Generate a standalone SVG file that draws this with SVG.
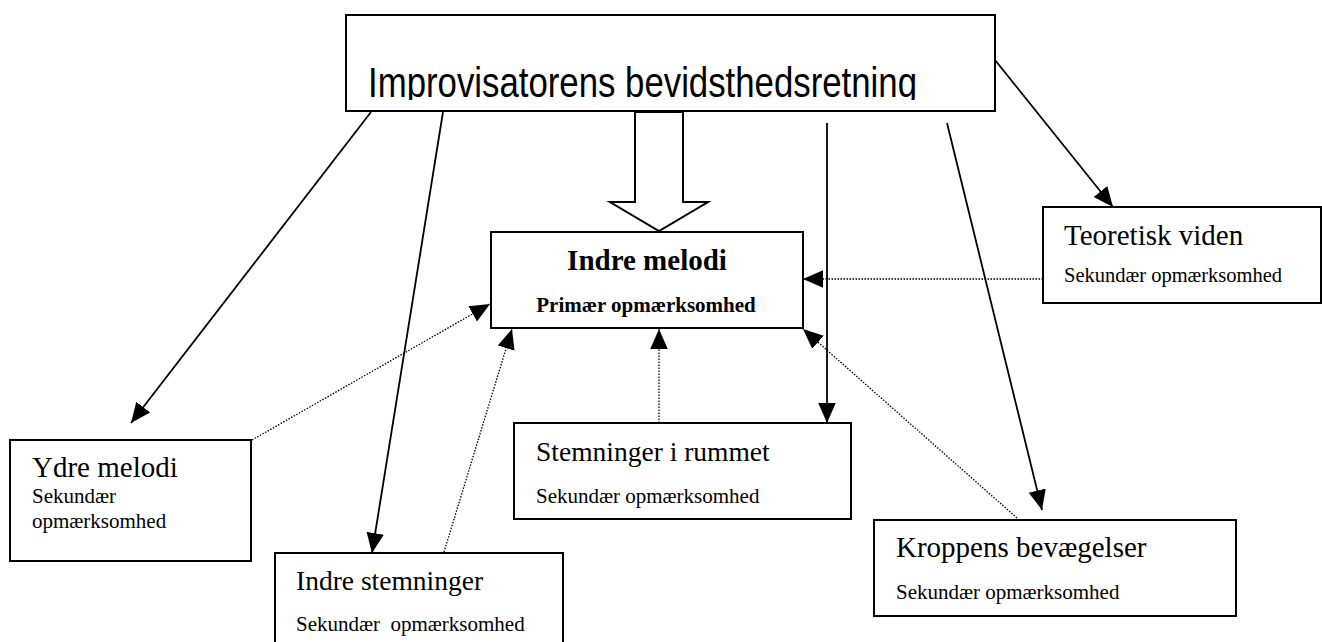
<svg xmlns="http://www.w3.org/2000/svg" width="1322" height="642" viewBox="0 0 1322 642">
<style>
.box{fill:#fff;stroke:#000;stroke-width:2}
.t{font-family:"Liberation Serif","Times New Roman",serif;fill:#000}
.b{font-weight:bold}
.solid{stroke:#000;stroke-width:1.8;fill:none}
.dot{stroke:#000;stroke-width:1.3;fill:none;stroke-dasharray:1.5 1.5}
</style>
<defs>
<marker id="ah" markerUnits="userSpaceOnUse" markerWidth="20" markerHeight="20" viewBox="0 0 16 14" refX="16" refY="7" orient="auto">
<path d="M0,0 L16,7 L0,14 Z" fill="#000"/>
</marker>
<clipPath id="topclip"><rect x="346" y="15" width="649" height="85"/></clipPath>
</defs>
<rect width="1322" height="642" fill="#fff"/>
<g id="connectors">
<line class="solid" x1="371" y1="112" x2="131" y2="423" marker-end="url(#ah)"/>
<line class="solid" x1="443" y1="112" x2="372" y2="553" marker-end="url(#ah)"/>
<line class="solid" x1="827" y1="123" x2="827" y2="423" marker-end="url(#ah)"/>
<line class="solid" x1="947" y1="123" x2="1042" y2="510" marker-end="url(#ah)"/>
<line class="solid" x1="995" y1="60" x2="1113" y2="207" marker-end="url(#ah)"/>
<line class="dot" x1="252" y1="440" x2="490" y2="304" marker-end="url(#ah)"/>
<line class="dot" x1="444" y1="552" x2="512" y2="329" marker-end="url(#ah)"/>
<line class="dot" x1="659" y1="423" x2="659" y2="329" marker-end="url(#ah)"/>
<line class="dot" x1="1017" y1="518" x2="803" y2="329" marker-end="url(#ah)"/>
<line class="dot" x1="1043" y1="279" x2="803" y2="279" marker-end="url(#ah)"/>
<polygon class="box" points="635,112 683,112 683,202 708,202 659,231 610,202 635,202"/>
</g>
<g id="top">
<rect class="box" x="346" y="15" width="649" height="96"/>
<text x="368" y="97" clip-path="url(#topclip)" font-family="'Liberation Sans Narrow','Liberation Sans',Arial,sans-serif" font-size="42" textLength="549" lengthAdjust="spacingAndGlyphs">Improvisatorens bevidsthedsretning</text>
</g>
<g id="indre-melodi">
<rect class="box" x="491" y="232" width="312" height="96"/>
<text class="t b" x="647" y="270" font-size="29" text-anchor="middle">Indre melodi</text>
<text class="t b" x="646" y="312" font-size="21" text-anchor="middle">Primær opmærksomhed</text>
</g>
<g id="teoretisk">
<rect class="box" x="1043" y="207" width="278" height="96"/>
<text class="t" x="1064" y="245" font-size="29">Teoretisk viden</text>
<text class="t" x="1064" y="282" font-size="20.5">Sekundær opmærksomhed</text>
</g>
<g id="ydre-melodi">
<rect class="box" x="10" y="440" width="241" height="121"/>
<text class="t" x="32" y="477" font-size="29">Ydre melodi</text>
<text class="t" x="32" y="503" font-size="21">Sekundær</text>
<text class="t" x="32" y="528" font-size="21">opmærksomhed</text>
</g>
<g id="stemninger-i-rummet">
<rect class="box" x="514" y="423" width="337" height="96"/>
<text class="t" x="536" y="461" font-size="27.5">Stemninger i rummet</text>
<text class="t" x="536" y="503" font-size="21">Sekundær opmærksomhed</text>
</g>
<g id="kroppens">
<rect class="box" x="874" y="520" width="362" height="96"/>
<text class="t" x="896" y="557" font-size="29">Kroppens bevægelser</text>
<text class="t" x="896" y="599" font-size="21">Sekundær opmærksomhed</text>
</g>
<g id="indre-stemninger">
<rect class="box" x="275" y="553" width="288" height="100"/>
<text class="t" x="296" y="590" font-size="27.5">Indre stemninger</text>
<text class="t" x="296" y="631" font-size="21" xml:space="preserve">Sekundær  opmærksomhed</text>
</g>
</svg>
